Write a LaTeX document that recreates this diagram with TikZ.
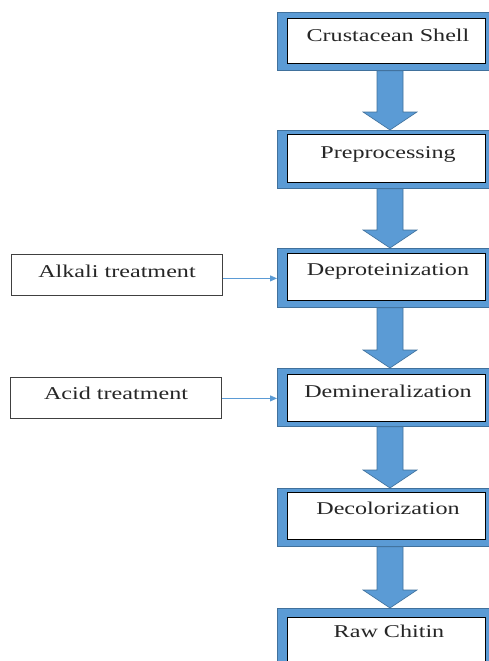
\documentclass[tikz,border=0pt]{standalone}
\usepackage{fontspec}
\setmainfont{Liberation Serif}
\newfontfamily\wideserif[FakeStretch=1.34]{Liberation Serif}
\usetikzlibrary{calc,arrows.meta}
\definecolor{frameblue}{HTML}{5B9BD5}
\definecolor{edgeblue}{HTML}{41719C}
\tikzset{
  outerbox/.style={draw=edgeblue, line width=0.8pt, fill=frameblue, rectangle, inner sep=0pt, minimum width=214pt, minimum height=#1, anchor=north west},
  innerbox/.style={draw=black, line width=0.9pt, fill=white, rectangle, inner sep=0pt, minimum width=198pt, minimum height=#1, anchor=north west},
  label/.style={font=\wideserif\fontsize{18}{20}\selectfont, anchor=base, inner sep=0pt, text=black!85},
  sidebox/.style={draw=black!75, line width=0.8pt, fill=white, rectangle, inner sep=0pt, minimum width=211pt, minimum height=41pt, anchor=north west},
  blkarrow/.style={fill=frameblue, draw=edgeblue, line width=0.6pt, line join=miter},
  thinarrow/.style={draw=frameblue, line width=0.8pt, -{Triangle[length=7pt,width=6pt]}}
}
\newcommand\blockarrow[2]{%
  \draw[blkarrow] let \p1=(#1.south), \p2=(#2.north) in
    (377,\y1) -- (403,\y1) -- (403,\y2+18) -- (417,\y2+18) -- (390,\y2)
    -- (363,\y2+18) -- (377,\y2+18) -- cycle;}
\begin{document}
\begin{tikzpicture}[x=1pt,y=1pt]
\useasboundingbox (0,0) rectangle (489,-661);
\begin{scope}
\clip (0,0) rectangle (489,-661);
% main column
\node[outerbox=58pt] (o1) at (277,-12) {};
\node[innerbox=45pt] (i1) at (287,-18) {};
\node[label] (t1) at (388,-42) {Crustacean Shell};

\node[outerbox=58pt] (o2) at (277,-130) {};
\node[innerbox=48pt] (i2) at (287,-134) {};
\node[label] (t2) at (388,-158) {Preprocessing};

\node[outerbox=59pt] (o3) at (277,-248) {};
\node[innerbox=47pt] (i3) at (287,-253) {};
\node[label] (t3) at (388,-275) {Deproteinization};

\node[outerbox=58pt] (o4) at (277,-368) {};
\node[innerbox=47pt] (i4) at (287,-374) {};
\node[label] (t4) at (388,-397) {Demineralization};

\node[outerbox=58pt] (o5) at (277,-488) {};
\node[innerbox=47pt] (i5) at (287,-492) {};
\node[label] (t5) at (388,-514) {Decolorization};

\node[outerbox=70pt] (o6) at (277,-608) {};
\node[innerbox=60pt] (i6) at (287,-617) {};
\node[label] (t6) at (389,-637) {Raw Chitin};

\blockarrow{o1}{o2}
\blockarrow{o2}{o3}
\blockarrow{o3}{o4}
\blockarrow{o4}{o5}
\blockarrow{o5}{o6}

% side inputs
\node[sidebox] (alk) at (11,-254) {};
\node[label] (talk) at (117,-277) {Alkali treatment};
\node[sidebox] (acid) at (10,-377) {};
\node[label] (tacid) at (116,-399) {Acid treatment};

\draw[thinarrow] ([yshift=-3.5pt]alk.east) -- ([yshift=-3.5pt]alk.east -| o3.west);
\draw[thinarrow] ([yshift=-0.5pt]acid.east) -- ([yshift=-0.5pt]acid.east -| o4.west);
\end{scope}
\end{tikzpicture}
\end{document}
